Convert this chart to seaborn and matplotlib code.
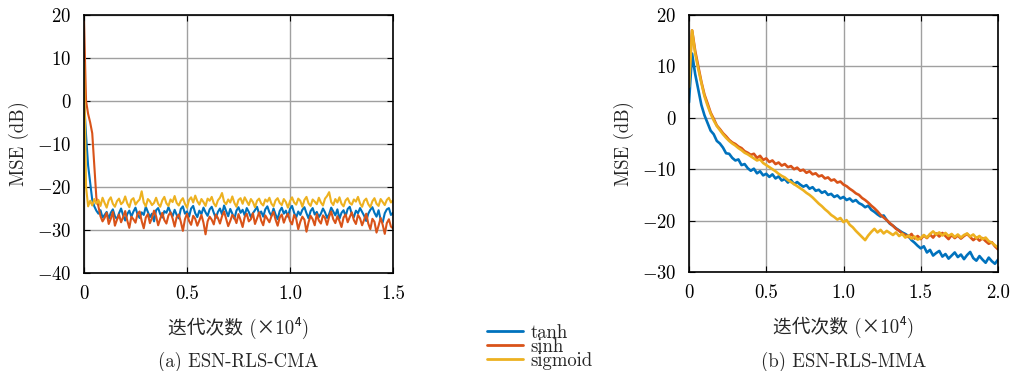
import numpy as np
import pandas as pd
import matplotlib
matplotlib.use("Agg")
import matplotlib.pyplot as plt
import seaborn as sns
from matplotlib.lines import Line2D

# ---------------- data ----------------
series_names = ["tanh", "sinh", "sigmoid"]
series_colors = ["#0072BD", "#D95319", "#EDB120"]

# (a) ESN-RLS-CMA, iterations x1e4, step 0.01
x_a = np.round(np.linspace(0, 1.5, 151), 3)
cma_tanh = [0.5, -8, -15, -19, -23, -24.5, -25.5,
            -26.2, -25.4, -27.1, -26.5, -25.8, -27.4, -26.0, -25.2, -26.8, -27.5,
            -26.1, -25.0, -26.6, -27.8, -26.3, -25.5, -26.9, -25.7, -24.8, -26.4,
            -27.2, -25.9, -26.5, -24.6, -25.8, -27.0, -26.2, -28.0, -25.4, -24.9,
            -26.3, -27.1, -25.6, -26.0, -24.7, -25.9, -26.8, -25.3, -26.5, -27.3,
            -25.1, -24.5, -26.2, -25.7, -26.9, -25.0, -24.4, -26.1, -27.0, -25.5,
            -26.3, -24.8, -25.9, -26.7, -25.2, -24.6, -26.0, -27.2, -25.8, -25.0,
            -26.4, -24.3, -25.6, -26.8, -25.1, -26.2, -27.4, -25.5, -24.7, -26.0,
            -25.3, -26.6, -24.9, -25.8, -27.0, -26.1, -25.4, -24.6, -26.3, -25.7,
            -26.9, -25.2, -24.5, -25.9, -26.7, -25.0, -26.4, -27.5, -25.6, -24.8,
            -26.2, -25.5, -26.9, -25.1, -24.4, -26.0, -27.1, -25.7, -26.5, -25.3,
            -24.7, -26.1, -27.3, -25.6, -24.9, -26.4, -25.8, -27.0, -26.2, -25.0,
            -25.9, -27.2, -26.3, -24.8, -25.7, -26.6, -25.2, -27.4, -26.0, -25.4,
            -26.8, -25.1, -24.6, -26.3, -27.0, -25.5, -26.1, -24.9, -25.8, -26.7,
            -27.9, -26.2, -25.3, -24.7, -26.0, -26.9, -25.4, -27.6, -28.2, -26.1,
            -25.2, -24.9, -26.5, -26.0]
cma_sinh = [18.5, 0, -3, -5, -7.5, -15, -22.5,
            -24.5, -26.8, -28.0, -27.2, -26.0, -28.6, -27.4, -25.8, -29.0, -27.6,
            -26.4, -28.2, -27.0, -25.6, -27.8, -29.5, -26.9, -27.5, -28.3, -26.2,
            -25.7, -27.9, -29.6, -27.1, -26.3, -28.4, -27.2, -25.5, -26.8, -28.9,
            -27.4, -26.0, -27.7, -28.5, -26.6, -25.9, -27.3, -29.2, -27.0, -26.4,
            -28.1, -30.2, -27.5, -26.2, -27.9, -28.8, -26.7, -27.4, -29.0, -27.8,
            -26.5, -28.3, -31.0, -28.0, -26.9, -27.6, -28.7, -26.4, -27.2, -28.5,
            -26.8, -25.7, -27.4, -29.1, -27.9, -26.5, -27.1, -28.4, -26.3, -27.7,
            -29.3, -27.0, -26.2, -28.0, -27.5, -26.1, -28.6, -27.3, -25.9, -27.8,
            -28.9, -26.6, -27.4, -28.2, -26.8, -25.8, -27.6, -29.0, -27.1, -26.4,
            -28.3, -27.0, -26.2, -27.9, -28.7, -26.5, -27.4, -29.8, -28.1, -26.9,
            -27.6, -30.4, -28.2, -26.7, -27.5, -28.9, -26.3, -27.8, -28.5, -26.6,
            -27.2, -28.8, -26.9, -25.7, -27.5, -28.4, -26.8, -27.9, -29.3, -27.1,
            -26.4, -28.2, -27.0, -25.9, -27.7, -28.6, -26.5, -27.3, -28.9, -27.6,
            -26.2, -28.5, -29.8, -27.4, -28.1, -30.6, -29.0, -27.2, -28.8, -30.9,
            -28.4, -27.5, -29.2, -29.6]
cma_sigmoid = [9, -20, -24.5, -23.2, -24.3, -22.8, -23.9,
               -23.0, -24.4, -22.5, -23.7, -24.8, -23.1, -22.4, -23.9, -24.6, -23.3,
               -22.7, -24.0, -23.5, -22.2, -23.8, -24.7, -23.0, -22.6, -24.1, -23.4,
               -22.9, -21.0, -23.6, -24.5, -22.8, -23.3, -24.2, -23.7, -22.5, -23.9,
               -24.6, -23.1, -22.3, -23.8, -24.4, -22.9, -23.5, -22.1, -23.7, -24.3,
               -23.2, -22.6, -23.9, -24.8, -23.0, -22.4, -23.6, -22.0, -23.3, -24.1,
               -22.8, -23.5, -24.4, -22.7, -23.2, -22.3, -23.8, -24.5, -23.1, -22.5,
               -21.4, -23.4, -24.0, -22.9, -23.6, -22.2, -23.7, -24.6, -23.0, -22.6,
               -23.9, -22.4, -23.3, -24.2, -22.8, -23.5, -24.7, -23.2, -22.7, -23.8,
               -24.3, -22.9, -23.4, -22.5, -23.9, -24.5, -23.1, -22.6, -23.7, -24.2,
               -22.8, -23.5, -24.8, -23.3, -22.4, -23.6, -24.1, -22.7, -23.2, -24.6,
               -23.0, -22.3, -23.8, -24.4, -22.9, -23.4, -24.0, -22.5, -23.6, -24.3,
               -22.7, -22.1, -21.2, -23.5, -24.2, -22.8, -23.6, -22.4, -23.9, -24.5,
               -23.1, -22.6, -23.7, -24.1, -22.9, -23.4, -22.3, -23.8, -24.6, -23.2,
               -22.7, -24.0, -24.7, -23.3, -22.6, -23.9, -24.4, -22.8, -23.5, -24.2,
               -23.0, -22.5, -23.6, -23.1]

# (b) ESN-RLS-MMA, iterations x1e4, step 0.02
x_b = np.round(np.linspace(0, 2.0, 101), 3)
mma_tanh = [3, 12.5, 8.5, 5.5, 2.5, 0.5, -1.0, -2.5, -3.2, -4.5,
            -5.0, -5.8, -6.9, -7.0, -7.8, -8.3, -8.1, -9.2, -9.0, -9.8,
            -10.3, -9.9, -10.8, -10.4, -11.2, -10.9, -11.5, -11.0, -11.8, -11.4,
            -12.2, -11.9, -12.6, -12.1, -12.9, -12.5, -13.0, -13.4, -13.1, -13.8,
            -13.5, -14.2, -14.0, -14.6, -14.3, -15.0, -14.8, -15.4, -15.1, -15.7,
            -15.4, -16.0, -15.7, -16.3, -16.0, -16.6, -16.9, -17.4, -17.1, -17.9,
            -18.3, -18.8, -19.2, -19.0, -19.9, -20.6, -21.0, -21.5, -21.9, -22.3,
            -22.6, -23.0, -23.8, -24.3, -24.9, -25.4, -25.0, -26.2, -25.7, -26.8,
            -26.3, -25.9, -27.0, -26.5, -27.4, -26.8, -26.2, -27.1, -26.6, -27.5,
            -26.7, -26.1, -27.3, -27.8, -26.9, -27.6, -28.2, -27.2, -27.9, -28.4,
            -27.6]
mma_sinh = [8, 17, 13, 10, 7, 4.5, 2.8, 1.0, -0.2, -1.5,
            -2.2, -3.0, -3.6, -4.3, -4.8, -5.1, -5.6, -5.9, -6.5, -6.8,
            -7.2, -7.0, -7.8, -7.4, -8.2, -7.9, -8.6, -8.3, -9.0, -8.7,
            -9.3, -9.0, -9.6, -9.4, -10.0, -9.7, -10.3, -10.1, -10.7, -10.4,
            -11.0, -10.8, -11.4, -11.2, -11.8, -11.6, -12.2, -12.0, -12.6, -12.4,
            -13.0, -13.3, -13.8, -14.2, -14.7, -15.0, -15.6, -16.0, -16.5, -17.1,
            -17.6, -18.2, -18.9, -19.4, -19.9, -20.5, -21.0, -21.6, -22.0, -22.5,
            -22.8, -23.2, -22.6, -23.5, -23.0, -23.6, -22.9, -23.4, -22.7, -23.3,
            -22.5, -23.1, -22.4, -23.0, -23.6, -22.8, -23.4, -22.9, -23.5, -23.0,
            -22.6, -23.2, -23.8, -23.3, -23.9, -23.4, -24.0, -24.5, -24.2, -25.0,
            -25.6]
mma_sigmoid = [6, 17, 12.5, 9.5, 6.8, 4.2, 2.4, 0.8, -0.5, -1.6,
               -2.4, -3.2, -3.9, -4.5, -5.0, -5.4, -5.9, -6.3, -6.8, -7.1,
               -7.5, -7.9, -8.3, -8.1, -8.8, -9.2, -9.6, -10.0, -10.4, -10.9,
               -11.3, -11.6, -12.1, -12.5, -12.9, -13.3, -13.7, -14.1, -14.6, -15.0,
               -15.5, -16.1, -16.7, -17.2, -17.8, -18.3, -18.9, -19.3, -19.8, -19.5,
               -20.3, -19.9, -20.8, -21.3, -22.0, -22.6, -23.2, -23.8, -22.9, -22.2,
               -21.6, -22.3, -21.8, -22.5, -22.0, -22.4, -22.8, -22.3, -23.0, -22.6,
               -23.3, -22.9, -23.5, -23.1, -23.7, -23.4, -22.8, -23.3, -22.6, -22.1,
               -22.7, -22.3, -22.9, -22.4, -23.0, -22.6, -23.2, -22.7, -23.3, -22.8,
               -22.5, -23.1, -22.7, -23.4, -23.0, -23.6, -23.3, -24.0, -24.3, -24.8,
               -25.2]

xticks_a = [0, 0.5, 1.0, 1.5]
xticklabels_a = ["0", "0.5", "1.0", "1.5"]
yticks_a = [-40, -30, -20, -10, 0, 10, 20]
xticks_b = [0, 0.5, 1.0, 1.5, 2.0]
xticklabels_b = ["0", "0.5", "1.0", "1.5", "2.0"]
yticks_b = [-30, -20, -10, 0, 10, 20]

xlabel_text = "迭代次数 (×10⁴)"
ylabel_text = "MSE (dB)"
caption_a = "(a) ESN-RLS-CMA"
caption_b = "(b) ESN-RLS-MMA"

# ---------------- style ----------------
sns.set_style("whitegrid")
plt.rcParams["font.family"] = ["cmr10", "Noto Sans CJK SC", "DejaVu Serif"]
plt.rcParams["mathtext.fontset"] = "cm"
plt.rcParams["axes.formatter.use_mathtext"] = True
plt.rcParams["axes.unicode_minus"] = True

W, H = 1010, 371
fig = plt.figure(figsize=(W / 100, H / 100), dpi=100)
ax_a = fig.add_axes([84 / W, 1 - 273 / H, (393 - 84) / W, (273 - 15) / H])
ax_b = fig.add_axes([689 / W, 1 - 272 / H, (998 - 689) / W, (272 - 15) / H])

df_a = pd.DataFrame({"x": np.concatenate([x_a] * 3),
                     "y": np.concatenate([cma_tanh, cma_sinh, cma_sigmoid]),
                     "f": np.repeat(series_names, len(x_a))})
df_b = pd.DataFrame({"x": np.concatenate([x_b] * 3),
                     "y": np.concatenate([mma_tanh, mma_sinh, mma_sigmoid]),
                     "f": np.repeat(series_names, len(x_b))})

pal = dict(zip(series_names, series_colors))
for ax, df, lw in [(ax_a, df_a, 1.5), (ax_b, df_b, 1.9)]:
    sns.lineplot(data=df, x="x", y="y", hue="f", hue_order=series_names,
                 palette=pal, linewidth=lw, ax=ax, legend=False,
                 estimator=None, sort=False)

def style(ax, xt, xtl, yt, xmax, ymin, ymax, caption):
    ax.set_xlim(0, xmax)
    ax.set_ylim(ymin, ymax)
    ax.set_xticks(xt)
    ax.set_xticklabels(xtl)
    ax.set_yticks(yt)
    ax.grid(True, color="#a0a0a0", linewidth=1.0)
    ax.set_axisbelow(True)
    for s in ax.spines.values():
        s.set_color("black")
        s.set_linewidth(1.2)
    ax.tick_params(direction="in", length=4, width=0.8, labelsize=13.5,
                   top=True, right=True, left=True, bottom=True, pad=9, colors="black")
    ax.set_xlabel(xlabel_text, fontsize=13.5, labelpad=10)
    ax.set_ylabel(ylabel_text, fontsize=13.5, labelpad=6)
    pos = ax.get_position()
    fig.text((pos.x0 + pos.x1) / 2, 1 - 362 / H, caption, ha="center", va="center",
             fontsize=13.5)

style(ax_a, xticks_a, xticklabels_a, yticks_a, 1.5, -40, 20, caption_a)
style(ax_b, xticks_b, xticklabels_b, yticks_b, 2.0, -30, 20, caption_b)

handles = [Line2D([], [], color=c, linewidth=2.0) for c in series_colors]
fig.legend(handles, series_names, loc="upper left", bbox_to_anchor=(474 / W, 1 - 311 / H),
           frameon=False, fontsize=13.5, handlelength=1.9, labelspacing=-0.22,
           handletextpad=0.4, borderpad=0.2)

fig.savefig("out.png", dpi=100)
